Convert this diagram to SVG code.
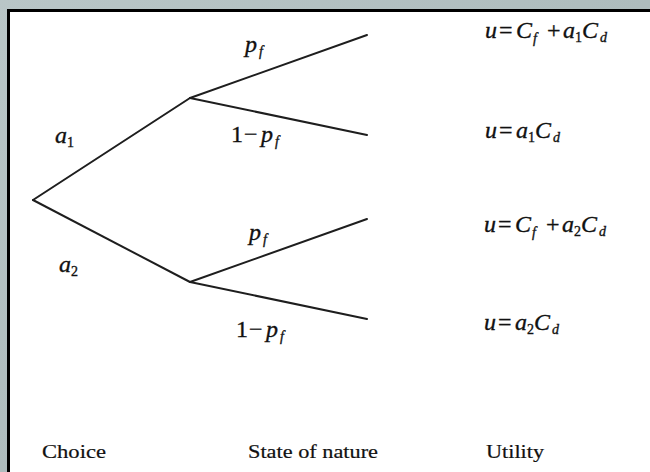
<svg xmlns="http://www.w3.org/2000/svg" width="650" height="472" viewBox="0 0 650 472">
  <defs>
    <linearGradient id="bg" x1="0" y1="0" x2="1" y2="1">
      <stop offset="0" stop-color="#b9c6c7"/>
      <stop offset="0.5" stop-color="#aebcbd"/>
      <stop offset="1" stop-color="#bcc8c9"/>
    </linearGradient>
    <style>
      .edge { stroke: #1e1e1e; stroke-width: 2; fill: none; stroke-linecap: round; }
      .m { font-family: 'Liberation Serif', 'Times New Roman', serif; font-style: italic; font-size: 24px; fill: #111; stroke: #111; stroke-width: 0.35; }
      .up { font-style: normal; }
      .sub { font-size: 14px; }
      .lbl { font-family: 'Liberation Serif', 'Times New Roman', serif; font-size: 19px; fill: #111; stroke: #111; stroke-width: 0.2; }
    </style>
  </defs>
  <rect x="0" y="0" width="650" height="472" fill="url(#bg)"/>
  <rect x="8.5" y="10.5" width="660" height="480" fill="#ffffff" stroke="#000" stroke-width="3"/>

  <g id="connectors">
    <line class="edge" x1="33" y1="200" x2="190" y2="98"/>
    <line class="edge" x1="33" y1="200" x2="190" y2="282"/>
    <line class="edge" x1="190" y1="98" x2="367" y2="35"/>
    <line class="edge" x1="190" y1="98" x2="367" y2="135"/>
    <line class="edge" x1="190" y1="282" x2="367" y2="219"/>
    <line class="edge" x1="190" y1="282" x2="367" y2="319"/>
  </g>

  <g id="choice-labels">
    <text class="m" x="55" y="143">a<tspan class="sub up" x="67" y="147">1</tspan></text>
    <text class="m" x="59" y="272">a<tspan class="sub up" x="71" y="276">2</tspan></text>
  </g>

  <g id="state-labels">
    <text class="m" x="245" y="52">p<tspan class="sub" x="259" y="56">f</tspan></text>
    <text class="m" x="231" y="142"><tspan class="up">1</tspan><tspan class="up" x="244">−</tspan><tspan x="261">p</tspan><tspan class="sub" x="275" y="146">f</tspan></text>
    <text class="m" x="249" y="240">p<tspan class="sub" x="263" y="244">f</tspan></text>
    <text class="m" x="236" y="337"><tspan class="up">1</tspan><tspan class="up" x="249">−</tspan><tspan x="266">p</tspan><tspan class="sub" x="280" y="341">f</tspan></text>
  </g>

  <g id="utility-1">
    <text class="m" x="485" y="38">u<tspan class="up" x="499">=</tspan><tspan x="516">C</tspan><tspan class="sub" x="533" y="43">f</tspan><tspan class="up" x="547" y="38">+</tspan><tspan x="563">a</tspan><tspan class="sub up" x="575" y="42">1</tspan><tspan x="582" y="38">C</tspan><tspan class="sub" x="600" y="42">d</tspan></text>
  </g>
  <g id="utility-2">
    <text class="m" x="485" y="138">u<tspan class="up" x="499">=</tspan><tspan x="516">a</tspan><tspan class="sub up" x="528" y="142">1</tspan><tspan x="535" y="138">C</tspan><tspan class="sub" x="553" y="142">d</tspan></text>
  </g>
  <g id="utility-3">
    <text class="m" x="484" y="232">u<tspan class="up" x="498">=</tspan><tspan x="515">C</tspan><tspan class="sub" x="532" y="237">f</tspan><tspan class="up" x="546" y="232">+</tspan><tspan x="562">a</tspan><tspan class="sub up" x="574" y="236">2</tspan><tspan x="581" y="232">C</tspan><tspan class="sub" x="599" y="236">d</tspan></text>
  </g>
  <g id="utility-4">
    <text class="m" x="484" y="330">u<tspan class="up" x="498">=</tspan><tspan x="515">a</tspan><tspan class="sub up" x="527" y="334">2</tspan><tspan x="534" y="330">C</tspan><tspan class="sub" x="552" y="334">d</tspan></text>
  </g>

  <g id="column-labels">
    <text class="lbl" x="42" y="458" textLength="64" lengthAdjust="spacingAndGlyphs">Choice</text>
    <text class="lbl" x="248" y="458" textLength="130" lengthAdjust="spacingAndGlyphs">State of nature</text>
    <text class="lbl" x="486" y="458" textLength="58" lengthAdjust="spacingAndGlyphs">Utility</text>
  </g>
</svg>
